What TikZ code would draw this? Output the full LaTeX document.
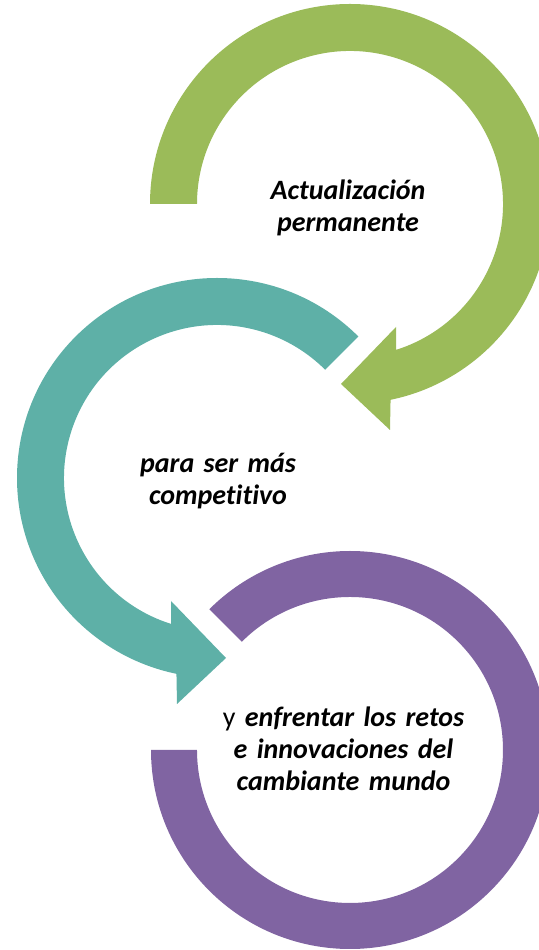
\documentclass[tikz,border=0pt]{standalone}
\usepackage{fontspec}
\setmainfont{Carlito}[RawFeature=-liga]
\definecolor{cgreen}{HTML}{9BBB59}
\definecolor{cteal}{HTML}{5EB0A7}
\definecolor{cpurple}{HTML}{8064A2}
\begin{document}
\begin{tikzpicture}[x=1pt,y=1pt,
  lbl/.style={text width=330pt, align=center, font=\fontsize{28}{32}\selectfont\bfseries\itshape, anchor=base, inner sep=0pt}]
\useasboundingbox (0,0) rectangle (538,950);
% purple ring (no head)
\fill[cpurple] (350,200) ++(180:199) arc[start angle=180,end angle=495,radius=199]
  -- (241.8,308.2) arc[start angle=495,end angle=180,radius=153] -- cycle;
% teal circular arrow
\fill[cteal] (217,472) ++(45:200) arc[start angle=45,end angle=258.3,radius=200]
  -- (177,246) -- (226,292) -- (171,349) -- (171,326.1)
  arc[start angle=252.5,end angle=45,radius=153] -- cycle;
% green circular arrow
\fill[cgreen] (350,746) ++(180:200) arc[start angle=180,end angle=-78.3,radius=200]
  -- (390,520) -- (341,566) -- (396,623) -- (396,600.1)
  arc[start angle=-72.5,end angle=180,radius=153] -- cycle;
\node[lbl] (t1) at (348,750) {Actualización\\permanente};
\node[lbl] (t2) at (218,477) {para ser más\\competitivo};
\node[lbl] (t3) at (343.5,223) {{\normalfont y} enfrentar los retos\\e innovaciones del\\cambiante mundo};
\end{tikzpicture}
\end{document}
